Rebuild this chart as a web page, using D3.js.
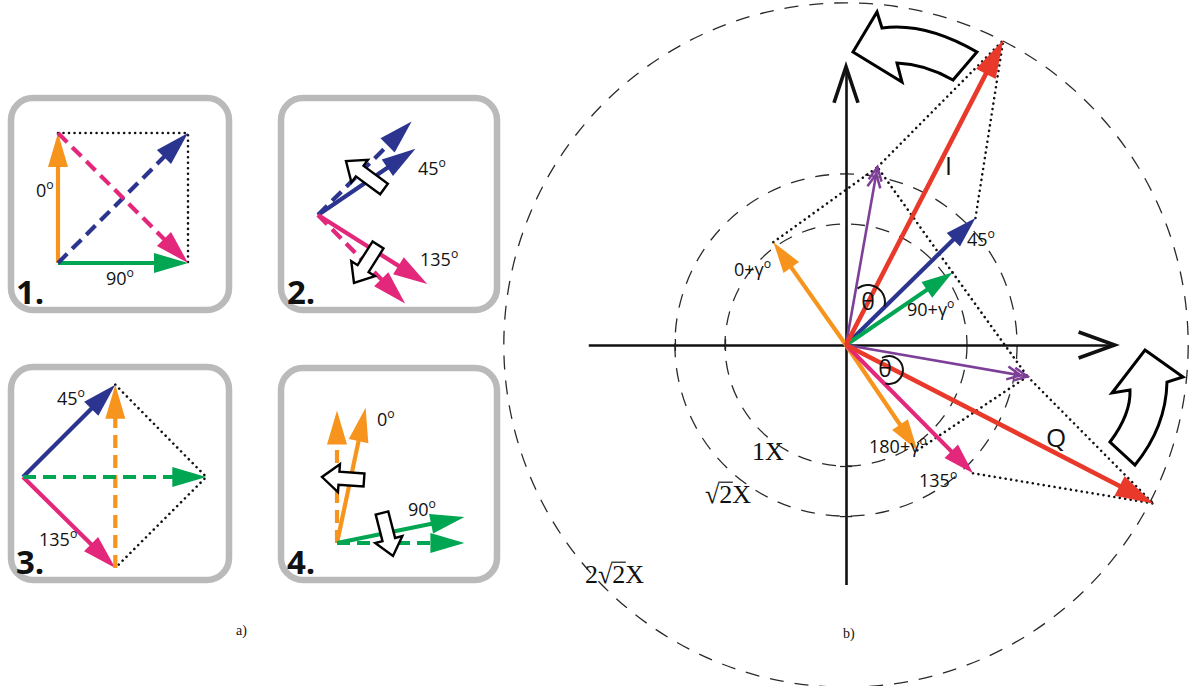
<!DOCTYPE html>
<html>
<head>
<meta charset="utf-8">
<script src="https://cdn.jsdelivr.net/npm/d3@7"></script>
<style>
  html, body { margin: 0; padding: 0; background: #fff; }
  svg { display: block; }
</style>
</head>
<body>
<svg id="fig" width="1192" height="686"></svg>
<script>
// ---------------- data ----------------
// a) Four phase-step sketches; vectors in units of one step vector.
// state: "measured" = solid phasor, "ideal" = dashed reference / combination
const panel1Vectors = [
  { phase: "0",   state: "measured", from: [0, 0], to: [0, 1] },
  { phase: "90",  state: "measured", from: [0, 0], to: [1, 0] },
  { phase: "45",  state: "ideal",    from: [0, 0], to: [1, 1] },
  { phase: "135", state: "ideal",    from: [0, 1], to: [1, 0] }
];
const panel1Guide = [[0, 1], [1, 1], [1, 0]];
const panel1Labels = ["0", "90"];

const panel2Vectors = [
  { phase: "45",  state: "ideal",    from: [0, 0], to: [0.72, 0.72] },
  { phase: "45",  state: "measured", from: [0, 0], to: [0.75, 0.51] },
  { phase: "135", state: "ideal",    from: [0, 0], to: [0.67, -0.68] },
  { phase: "135", state: "measured", from: [0, 0], to: [0.84, -0.53] }
];
const panel2Guide = [];
const panel2Labels = ["45", "135"];

const panel3Vectors = [
  { phase: "45",  state: "measured", from: [0, 0], to: [0.71, 0.71] },
  { phase: "135", state: "measured", from: [0, 0], to: [0.71, -0.70] },
  { phase: "0",   state: "ideal",    from: [0.71, -0.70], to: [0.71, 0.71] },
  { phase: "90",  state: "ideal",    from: [0, 0], to: [1.41, 0] }
];
const panel3Guide = [[0.71, 0.71], [1.41, 0], [0.71, -0.70]];
const panel3Labels = ["45", "135"];

const panel4Vectors = [
  { phase: "0",  state: "ideal",    from: [0, 0], to: [0, 1.02] },
  { phase: "0",  state: "measured", from: [0, 0], to: [0.22, 1.04] },
  { phase: "90", state: "ideal",    from: [0, 0], to: [0.98, 0] },
  { phase: "90", state: "measured", from: [0, 0], to: [0.98, 0.20] }
];
const panel4Guide = [];
const panel4Labels = ["0", "90"];

// b) Phasor diagram, coordinates in units of X
const ringValues = [1, 1.414, 2.828];
const ringLabels = ["1X", "√2X", "2√2X"];

const stepNames = ["0+γ", "45", "90+γ", "135", "180+γ"];
const stepX = [-0.60, 1.07, 0.88, 1.05, 0.59];
const stepY = [0.85, 1.05, 0.60, -1.06, -0.87];

const sumNames = ["sumUpper", "sumLower"];
const sumX = [0.26, 1.50];
const sumY = [1.47, -0.26];

const resultNames = ["I", "Q"];
const resultX = [1.30, 2.54];
const resultY = [2.52, -1.31];

// parallelogram construction lines between vector tips
const guidePairs = [
  ["0+γ", "sumUpper"], ["90+γ", "sumUpper"],
  ["90+γ", "sumLower"], ["180+γ", "sumLower"],
  ["sumUpper", "I"], ["45", "I"],
  ["sumLower", "Q"], ["135", "Q"]
];

const angleLabel = "θ";
const captions = ["a)", "b)"];

// ---------------- styling ----------------
const ORANGE = "#f7941d", NAVY = "#2b3590", GREEN = "#00a651",
      PINK = "#e3287b", PURPLE = "#7e3f98", RED = "#e8392a";
const colour = d3.scaleOrdinal()
  .domain(["0", "45", "90", "135", "0+γ", "90+γ", "180+γ", "sumUpper", "sumLower", "I", "Q"])
  .range([ORANGE, NAVY, GREEN, PINK, ORANGE, GREEN, ORANGE, PURPLE, PURPLE, RED, RED]);

const SANS = "'Open Sans', 'Noto Sans', sans-serif";
const SERIF = "'Liberation Serif', 'Times New Roman', serif";

const svg = d3.select("#fig");

// ---------- helpers ----------
function arrowHead(g, x0, y0, x1, y1, fill, len, wid) {
  const L = Math.hypot(x1 - x0, y1 - y0), ux = (x1 - x0) / L, uy = (y1 - y0) / L;
  const bx = x1 - ux * len, by = y1 - uy * len;
  g.append("path")
    .attr("d", d3.line()([[x1, y1], [bx - uy * wid / 2, by + ux * wid / 2], [bx + uy * wid / 2, by - ux * wid / 2]]) + "Z")
    .attr("fill", fill);
}

function vectorArrow(g, x0, y0, x1, y1, col, o) {
  const L = Math.hypot(x1 - x0, y1 - y0), ux = (x1 - x0) / L, uy = (y1 - y0) / L;
  const ex = x1 - ux * o.len * 0.8, ey = y1 - uy * o.len * 0.8;
  g.append("line")
    .attr("x1", x0).attr("y1", y0).attr("x2", ex).attr("y2", ey)
    .attr("stroke", col).attr("stroke-width", o.width)
    .attr("stroke-dasharray", o.dash || null);
  arrowHead(g, x0, y0, x1, y1, col, o.len, o.wid);
}

function chevronArrow(g, x0, y0, x1, y1, col) {
  g.append("line").attr("x1", x0).attr("y1", y0).attr("x2", x1).attr("y2", y1)
    .attr("stroke", col).attr("stroke-width", 2.6);
  const a = Math.atan2(y1 - y0, x1 - x0);
  [0, 7].forEach(off => {
    const tx = x1 - Math.cos(a) * off, ty = y1 - Math.sin(a) * off;
    const arm = 15, s = 0.45;
    const p1 = [tx - arm * Math.cos(a - s), ty - arm * Math.sin(a - s)];
    const p2 = [tx - arm * Math.cos(a + s), ty - arm * Math.sin(a + s)];
    g.append("path").attr("d", d3.line()([p1, [tx, ty], p2]))
      .attr("fill", "none").attr("stroke", col).attr("stroke-width", 2.5)
      .attr("stroke-linejoin", "miter");
  });
}

function dotted(g, pts) {
  g.append("path").attr("d", d3.line()(pts))
    .attr("fill", "none").attr("stroke", "#111").attr("stroke-width", 2.6)
    .attr("stroke-linecap", "round").attr("stroke-dasharray", "0.01 5.5");
}

function degreeText(g, x, y, base, size, anchor) {
  const t = g.append("text").attr("x", x).attr("y", y)
    .attr("font-family", SANS).attr("font-size", size).attr("fill", "#111")
    .attr("text-anchor", anchor || "start");
  t.append("tspan").text(base);
  t.append("tspan").attr("font-size", size * 0.68).attr("dy", -size * 0.45).text("o");
  return t;
}

function blockArrow(g, tail, tip, sw, hw, hl) {
  const dx = tip[0] - tail[0], dy = tip[1] - tail[1], L = Math.hypot(dx, dy);
  const ux = dx / L, uy = dy / L, nx = -uy, ny = ux;
  const neck = [tip[0] - ux * hl, tip[1] - uy * hl];
  const pts = [
    [tail[0] + nx * sw / 2, tail[1] + ny * sw / 2],
    [neck[0] + nx * sw / 2, neck[1] + ny * sw / 2],
    [neck[0] + nx * hw / 2, neck[1] + ny * hw / 2],
    tip,
    [neck[0] - nx * hw / 2, neck[1] - ny * hw / 2],
    [neck[0] - nx * sw / 2, neck[1] - ny * sw / 2],
    [tail[0] - nx * sw / 2, tail[1] - ny * sw / 2]
  ];
  g.append("path").attr("d", d3.line()(pts) + "Z")
    .attr("fill", "#fff").attr("stroke", "#000").attr("stroke-width", 2.4)
    .attr("stroke-linejoin", "miter");
}

// ---------------- a) panels ----------------
const UNIT = 130;
const panels = [
  { num: "1.", box: [11, 98, 218, 212], origin: [58, 263], vectors: panel1Vectors, guide: panel1Guide,
    labels: panel1Labels, labelAt: [[36, 197], [106, 285]], numAt: [16, 304], blocks: [] },
  { num: "2.", box: [281, 98, 216, 212], origin: [318, 215], vectors: panel2Vectors, guide: panel2Guide,
    labels: panel2Labels, labelAt: [[418, 175], [420, 266]], numAt: [287, 304],
    blocks: [[[384, 189], [346, 161]], [[378, 245], [354, 283]]] },
  { num: "3.", box: [11, 367, 218, 213], origin: [23, 477], vectors: panel3Vectors, guide: panel3Guide,
    labels: panel3Labels, labelAt: [[57, 405], [39, 546]], numAt: [16, 574], blocks: [] },
  { num: "4.", box: [281, 368, 216, 212], origin: [337, 543], vectors: panel4Vectors, guide: panel4Guide,
    labels: panel4Labels, labelAt: [[377, 426], [408, 516]], numAt: [287, 574],
    blocks: [[[364, 480], [322, 477]], [[382, 513], [393, 556]]] }
];

panels.forEach(p => {
  const g = svg.append("g");
  g.append("rect").attr("x", p.box[0]).attr("y", p.box[1])
    .attr("width", p.box[2]).attr("height", p.box[3]).attr("rx", 22)
    .attr("fill", "#fff").attr("stroke", "#bababa").attr("stroke-width", 6.5);

  const x = d3.scaleLinear().domain([0, 1]).range([p.origin[0], p.origin[0] + UNIT]);
  const y = d3.scaleLinear().domain([0, 1]).range([p.origin[1], p.origin[1] - UNIT]);

  if (p.guide.length) dotted(g, p.guide.map(d => [x(d[0]), y(d[1])]));

  p.vectors.forEach(v => {
    vectorArrow(g, x(v.from[0]), y(v.from[1]), x(v.to[0]), y(v.to[1]), colour(v.phase),
      { width: 4.2, len: 34, wid: 20, dash: v.state === "ideal" ? "13 7" : null });
  });

  p.blocks.forEach(b => blockArrow(g, b[0], b[1], 13, 28, 17));

  p.labels.forEach((t, i) => degreeText(g, p.labelAt[i][0], p.labelAt[i][1], t, 18));

  g.append("text").attr("x", p.numAt[0]).attr("y", p.numAt[1])
    .attr("font-family", SANS).attr("font-weight", 700).attr("font-size", 33)
    .attr("fill", "#111").text(p.num);
});

svg.append("text").attr("x", 236).attr("y", 635).attr("font-family", SERIF)
  .attr("font-size", 14).attr("fill", "#111").text(captions[0]);

// ---------------- b) phasor diagram ----------------
const XPX = 121;
const sx = d3.scaleLinear().domain([0, 1]).range([846, 846 + XPX]);
const sy = d3.scaleLinear().domain([0, 1]).range([345, 345 - XPX]);
const gb = svg.append("g");

// dashed magnitude rings
gb.selectAll("circle.ring").data(ringValues).join("circle")
  .attr("class", "ring")
  .attr("cx", sx(0)).attr("cy", sy(0))
  .attr("r", d => sx(d) - sx(0))
  .attr("fill", "none").attr("stroke", "#2a2a2a").attr("stroke-width", 1.3)
  .attr("stroke-dasharray", "14 11");

// axes
const xAxisScale = d3.scaleLinear().domain([-2.13, 2.22]).range([sx(-2.13), sx(2.22)]);
const yAxisScale = d3.scaleLinear().domain([-1.98, 2.30]).range([sy(-1.98), sy(2.30)]);
const tickVals = [-ringValues[1], -ringValues[0]];

const xAxisG = gb.append("g").attr("transform", `translate(0,${sy(0)})`)
  .call(d3.axisBottom(xAxisScale).tickValues(tickVals).tickFormat("").tickSizeOuter(0));
const yAxisG = gb.append("g").attr("transform", `translate(${sx(0)},0)`)
  .call(d3.axisLeft(yAxisScale).tickValues(tickVals).tickFormat("").tickSizeOuter(0));
xAxisG.select(".domain").attr("stroke", "#111").attr("stroke-width", 2.6);
yAxisG.select(".domain").attr("stroke", "#111").attr("stroke-width", 2.6);
xAxisG.selectAll(".tick line").attr("y1", -6).attr("y2", 6).attr("stroke", "#222").attr("stroke-width", 1.3);
yAxisG.selectAll(".tick line").attr("x1", -6).attr("x2", 6).attr("stroke", "#222").attr("stroke-width", 1.3);

// open chevron heads on the positive axis ends
const xe = [sx(2.22), sy(0)], ye = [sx(0), sy(2.30)];
gb.append("path").attr("d", d3.line()([[xe[0] - 36, xe[1] - 13], xe, [xe[0] - 36, xe[1] + 13]]))
  .attr("fill", "none").attr("stroke", "#111").attr("stroke-width", 3.6);
gb.append("path").attr("d", d3.line()([[ye[0] - 12, ye[1] + 36], ye, [ye[0] + 12, ye[1] + 36]]))
  .attr("fill", "none").attr("stroke", "#111").attr("stroke-width", 3.6);

// tip lookup
const tips = {};
stepNames.forEach((n, i) => tips[n] = [stepX[i], stepY[i]]);
sumNames.forEach((n, i) => tips[n] = [sumX[i], sumY[i]]);
resultNames.forEach((n, i) => tips[n] = [resultX[i], resultY[i]]);

// construction lines
guidePairs.forEach(([a, b]) => dotted(gb, [[sx(tips[a][0]), sy(tips[a][1])], [sx(tips[b][0]), sy(tips[b][1])]]));

// phase-step phasors
const drawOrder = ["0+γ", "180+γ", "135", "45", "90+γ"];
drawOrder.forEach(n => {
  vectorArrow(gb, sx(0), sy(0), sx(tips[n][0]), sy(tips[n][1]), colour(n), { width: 4.2, len: 31, wid: 19 });
});
// pairwise sums
sumNames.forEach(n => chevronArrow(gb, sx(0), sy(0), sx(tips[n][0]), sy(tips[n][1]), colour(n)));
// resulting I and Q
resultNames.forEach(n => {
  vectorArrow(gb, sx(0), sy(0), sx(tips[n][0]), sy(tips[n][1]), colour(n), { width: 4.6, len: 38, wid: 22 });
});

// phase labels
degreeText(gb, 734, 276, "0+γ", 18);
degreeText(gb, 967, 246, "45", 18);
degreeText(gb, 907, 316, "90+γ", 18);
degreeText(gb, 869, 453, "180+γ", 18);
degreeText(gb, 919, 487, "135", 18);

// I / Q labels
gb.append("text").attr("x", 945).attr("y", 175).attr("font-family", SANS)
  .attr("font-size", 25).attr("fill", "#111").text(resultNames[0]);
gb.append("text").attr("x", 1046).attr("y", 447).attr("font-family", SANS)
  .attr("font-size", 26).attr("fill", "#111").text(resultNames[1]);

// angle marks
function bracket(cx, cy, r, a0, a1) {
  const pts = d3.range(0, 21).map(i => {
    const a = (a0 + (a1 - a0) * i / 20) * Math.PI / 180;
    return [cx + r * Math.cos(a), cy + r * Math.sin(a)];
  });
  gb.append("path").attr("d", d3.line().curve(d3.curveBasis)(pts))
    .attr("fill", "none").attr("stroke", "#111").attr("stroke-width", 2);
}
bracket(868, 302, 17, -128, 15);
bracket(889, 370, 14, -120, 105);
gb.append("text").attr("x", 868).attr("y", 310).attr("text-anchor", "middle")
  .attr("font-family", SANS).attr("font-size", 23).attr("fill", "#111").text(angleLabel);
gb.append("text").attr("x", 885).attr("y", 377).attr("text-anchor", "middle")
  .attr("font-family", SANS).attr("font-size", 23).attr("fill", "#111").text(angleLabel);

// ring labels (serif), with radical overbars
const ringLabelAt = [[752, 460], [705, 503], [585, 583]];
ringLabels.forEach((t, i) => {
  const node = gb.append("text").attr("x", ringLabelAt[i][0]).attr("y", ringLabelAt[i][1])
    .attr("font-family", SERIF).attr("font-size", 26).attr("fill", "#111").text(t).node();
  const k = t.indexOf("√");
  if (k >= 0) {
    const xa = node.getEndPositionOfChar(k).x - 1;
    const xb = node.getEndPositionOfChar(k + 1).x + 0.5;
    const yb = ringLabelAt[i][1] - 26 * 0.80;
    gb.append("line").attr("x1", xa).attr("x2", xb).attr("y1", yb).attr("y2", yb)
      .attr("stroke", "#111").attr("stroke-width", 1.2);
  }
});

// rotation arrows
function curvedBlock(d) {
  gb.append("path").attr("d", d).attr("fill", "#fff").attr("stroke", "#000")
    .attr("stroke-width", 3).attr("stroke-linejoin", "miter");
}
curvedBlock("M853,52 L877,12 L882,28 Q925,22 977,52 L953,80 Q925,64 897,63 L902,82 Z");
curvedBlock("M1145,350 L1183,377 L1167,382 Q1166,427 1135,465 L1110,442 Q1131,414 1130,390 L1112,393 Z");

svg.append("text").attr("x", 843).attr("y", 638).attr("font-family", SERIF)
  .attr("font-size", 14).attr("fill", "#111").text(captions[1]);
</script>
</body>
</html>
